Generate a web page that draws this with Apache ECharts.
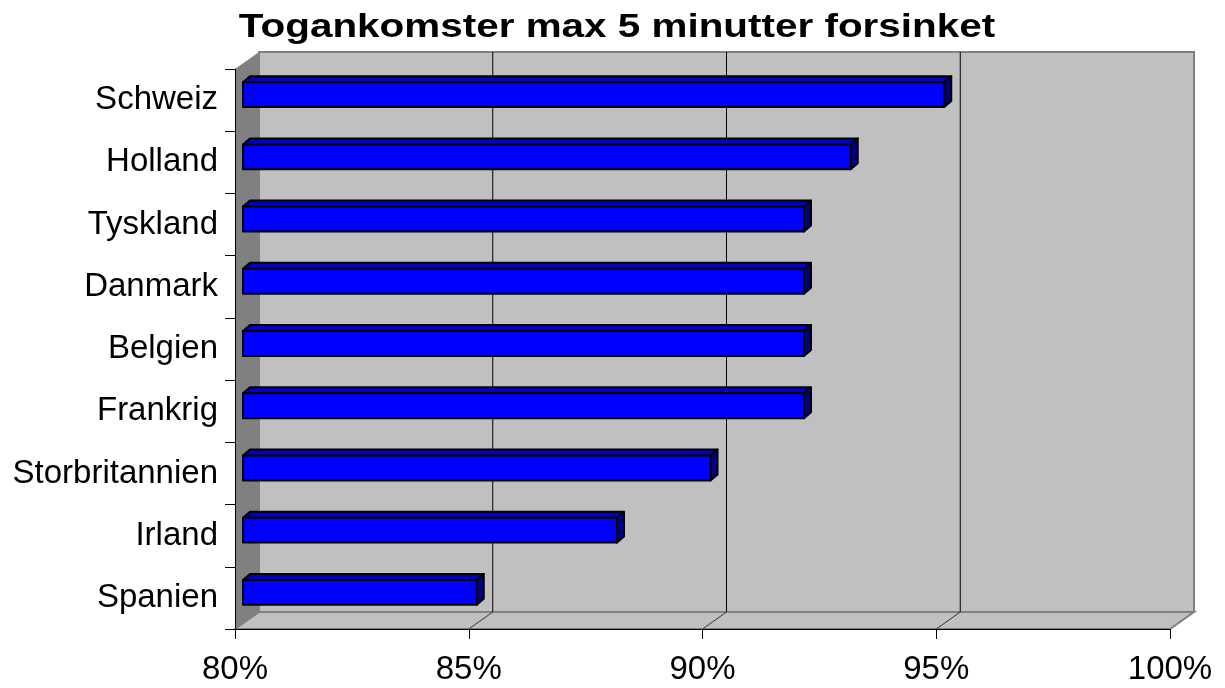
<!DOCTYPE html>
<html lang="da">
<head>
    <meta charset="UTF-8">
    <title>Togankomster max 5 minutter forsinket</title>
    <script src="https://cdn.jsdelivr.net/npm/echarts@6/dist/echarts.min.js"></script>
    <style>
        html, body { margin: 0; padding: 0; background: #fff; }
        #chart { width: 1225px; height: 688px; }
    </style>
</head>
<body>
<div id="chart"></div>
<script>
    // data
    var countries = ['Schweiz', 'Holland', 'Tyskland', 'Danmark', 'Belgien', 'Frankrig', 'Storbritannien', 'Irland', 'Spanien'];
    var onTime = [95, 93, 92, 92, 92, 92, 90, 88, 85];
    var xTicks = [80, 85, 90, 95, 100];
    var titleText = 'Togankomster max 5 minutter forsinket';

    // 3d look: offset of the back wall from the front plane (px)
    var DEPTH = [24, -17];
    var FONT = "'Liberation Sans', Arial, sans-serif";

    var chart = echarts.init(document.getElementById('chart'));

    // walls: back wall, left side wall, floor
    function renderWalls(params, api) {
        var cs = params.coordSys;
        var L = cs.x, T = cs.y, R = cs.x + cs.width, B = cs.y + cs.height;
        var dx = DEPTH[0], dy = DEPTH[1];
        return {
            type: 'group',
            children: [
                {
                    type: 'rect',
                    shape: { x: L + dx, y: T + dy, width: cs.width, height: cs.height },
                    style: { fill: '#C0C0C0', stroke: '#808080', lineWidth: 2 }
                },
                {
                    type: 'polygon',
                    shape: { points: [[L, T], [L + dx, T + dy], [L + dx, B + dy], [L, B]] },
                    style: { fill: '#808080' }
                },
                {
                    type: 'polygon',
                    shape: { points: [[L, B], [R, B], [R + dx, B + dy], [L + dx, B + dy]] },
                    style: { fill: '#C0C0C0', stroke: '#808080', lineWidth: 2 }
                }
            ]
        };
    }

    // gridlines on back wall + diagonal on the floor
    function renderGrid(params, api) {
        var v = api.value(0);
        if (v <= xTicks[0] || v >= xTicks[xTicks.length - 1]) return;
        var cs = params.coordSys;
        var T = cs.y, B = cs.y + cs.height;
        var x = api.coord([v, 0])[0];
        var dx = DEPTH[0], dy = DEPTH[1];
        return {
            type: 'group',
            children: [
                {
                    type: 'line',
                    shape: { x1: x + dx, y1: T + dy, x2: x + dx, y2: B + dy },
                    style: { stroke: '#000', lineWidth: 1 }
                },
                {
                    type: 'line',
                    shape: { x1: x, y1: B, x2: x + dx, y2: B + dy },
                    style: { stroke: '#333', lineWidth: 1 }
                }
            ]
        };
    }

    // 3d bar: front face, top face, right face
    function renderBar(params, api) {
        var v = api.value(0), idx = api.value(1);
        var base = api.coord([xTicks[0], idx]);
        var end = api.coord([v, idx]);
        var band = api.size([0, 1])[1];
        var h = band * 0.4;
        var fx = 8, fy = -5.5;   // front face sits a bit inside the box
        var bx = 7, by = -6;     // bar thickness
        var x0 = base[0] + fx, x1 = end[0] + fx;
        var yc = end[1] + fy;
        var yt = yc - h / 2, yb = yc + h / 2;
        var line = { stroke: '#000', lineWidth: 2, lineJoin: 'round' };
        return {
            type: 'group',
            children: [
                {
                    type: 'polygon',
                    shape: { points: [[x0, yt], [x1, yt], [x1 + bx, yt + by], [x0 + bx, yt + by]] },
                    style: Object.assign({ fill: '#0000C0' }, line)
                },
                {
                    type: 'polygon',
                    shape: { points: [[x1, yt], [x1 + bx, yt + by], [x1 + bx, yb + by], [x1, yb]] },
                    style: Object.assign({ fill: '#000080' }, line)
                },
                {
                    type: 'rect',
                    shape: { x: x0, y: yt, width: x1 - x0, height: h },
                    style: Object.assign({ fill: '#0000FF' }, line)
                }
            ]
        };
    }

    var barData = [];
    for (var i = 0; i < countries.length; i++) {
        barData.push([onTime[i], i]);
    }

    chart.setOption({
        backgroundColor: '#FFFFFF',
        animation: false,
        graphic: [{
            type: 'text',
            x: 617,
            y: 28,
            scaleX: 1.225,
            style: {
                text: titleText,
                fontFamily: FONT,
                fontSize: 33,
                fontWeight: 'bold',
                fill: '#000',
                align: 'center',
                verticalAlign: 'middle'
            }
        }],
        grid: { left: 235, right: 55, top: 69, bottom: 59, containLabel: false },
        xAxis: {
            type: 'value',
            min: xTicks[0],
            max: xTicks[xTicks.length - 1],
            interval: 5,
            z: 10,
            axisLine: { show: true, lineStyle: { color: '#000', width: 1 } },
            axisTick: { show: true, length: 10, lineStyle: { color: '#000' } },
            axisLabel: {
                formatter: '{value}%',
                fontFamily: FONT,
                fontSize: 33,
                color: '#000',
                margin: 24
            },
            splitLine: { show: false }
        },
        yAxis: {
            type: 'category',
            data: countries,
            inverse: true,
            z: 10,
            axisLine: { show: true, lineStyle: { color: '#000', width: 1 } },
            axisTick: { show: true, length: 10, lineStyle: { color: '#000' } },
            axisLabel: {
                fontFamily: FONT,
                fontSize: 33,
                color: '#000',
                margin: 17
            }
        },
        series: [
            {
                type: 'custom',
                name: 'walls',
                z: 1,
                renderItem: renderWalls,
                data: [[xTicks[0], 0]],
                silent: true
            },
            {
                type: 'custom',
                name: 'grid',
                z: 2,
                renderItem: renderGrid,
                data: xTicks.map(function (t) { return [t, 0]; }),
                silent: true
            },
            {
                type: 'custom',
                name: 'Togankomster',
                z: 3,
                renderItem: renderBar,
                encode: { x: 0, y: 1 },
                data: barData
            }
        ]
    });
</script>
</body>
</html>
